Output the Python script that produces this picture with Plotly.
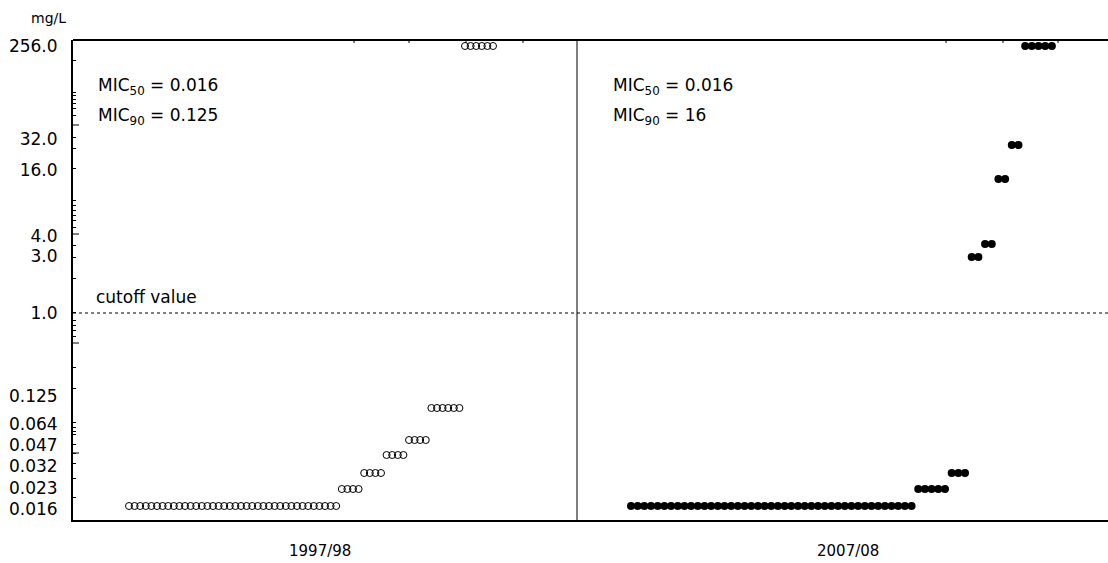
import numpy as np
import plotly.graph_objects as go

# ---------------- data ----------------
periods = ["1997/98", "2007/08"]

mic_levels_9798 = [0.016, 0.023, 0.032, 0.047, 0.064, 0.125, 256]
counts_9798 = [38, 4, 4, 4, 4, 6, 6]

mic_levels_0708 = [0.016, 0.023, 0.032, 3, 4, 16, 32, 256]
counts_0708 = [43, 5, 3, 2, 2, 2, 2, 5]

mic_summary = {
    "1997/98": ("0.016", "0.125"),
    "2007/08": ("0.016", "16"),
}
cutoff_value = 1.0

tick_labels = ["0.016", "0.023", "0.032", "0.047", "0.064", "0.125",
               "1.0", "3.0", "4.0", "16.0", "32.0", "256.0"]

# ---------------- custom dilution scale (axis units = px from bottom) ----------------
scale_vals = [0.016, 0.023, 0.032, 0.047, 0.064, 0.125, 1, 3, 4, 16, 32, 256]
scale_pos = [14, 31, 47, 65, 80, 112, 207, 263, 276, 341, 375, 474]
tick_pos = [11, 32, 54, 75, 96, 124, 207, 264, 284, 350, 381, 474]
minor_pos = [460, 428, 425, 421, 417, 412, 405, 383, 372, 352, 320, 315, 310, 305,
             300, 293, 275, 263, 242, 208, 200, 195, 190, 184, 153, 132, 98, 93,
             89, 86, 76, 67, 57, 42, 23]
long_tick_pos = [395, 286, 177, 67]


def ypos(v):
    return np.interp(np.log2(v), np.log2(scale_vals), scale_pos)


vals_l = np.repeat(mic_levels_9798, counts_9798)
vals_r = np.repeat(mic_levels_0708, counts_0708)

L, T, R, B = 73, 40, 0, 43
W, H = 1108, 563
pw = W - L - R
ph = H - T - B
d = (577 - L) / pw

fig = go.Figure()
fig.add_trace(go.Scatter(
    x=np.arange(len(vals_l)), y=ypos(vals_l), mode="markers",
    marker=dict(symbol="circle-open", size=7, color="black", line=dict(width=1, color="black")),
    xaxis="x", yaxis="y", hoverinfo="skip"))
fig.add_trace(go.Scatter(
    x=np.arange(len(vals_r)), y=ypos(vals_r), mode="markers",
    marker=dict(symbol="circle", size=8, color="black"),
    xaxis="x2", yaxis="y", hoverinfo="skip"))

FAM = "DejaVu Sans, Liberation Sans, Arial, sans-serif"
font = dict(family=FAM, size=17, color="black")

fig.update_layout(
    width=W, height=H,
    margin=dict(l=L, r=R, t=T, b=B),
    plot_bgcolor="white", paper_bgcolor="white",
    showlegend=False, font=font,
    xaxis=dict(domain=[0, d], range=[-10, 80], showline=True, linewidth=2, linecolor="black",
               showticklabels=False, ticks="", showgrid=False, zeroline=False),
    xaxis2=dict(domain=[d, 1], range=[-8.08, 71.4], anchor="y", showline=True, linewidth=2,
                linecolor="black", showticklabels=False, ticks="", showgrid=False, zeroline=False),
    yaxis=dict(range=[0, ph], tickmode="array", tickvals=tick_pos, ticktext=tick_labels,
               ticks="outside", ticklen=10, tickcolor="rgba(0,0,0,0)",
               tickfont=dict(family=FAM, size=17, color="black"),
               showline=True, linewidth=2, linecolor="black", showgrid=False, zeroline=False,
               minor=dict(tickmode="array", tickvals=minor_pos, ticks="inside", ticklen=3,
                          tickcolor="black", tickwidth=1, showgrid=False)),
)

shapes = []
# top border
shapes.append(dict(type="line", xref="paper", yref="paper", x0=0, x1=1, y0=1, y1=1,
                   line=dict(color="black", width=2)))
# panel divider
shapes.append(dict(type="line", xref="paper", yref="paper", x0=d, x1=d, y0=0, y1=1,
                   line=dict(color="black", width=1)))
# cutoff line
cy = float(ypos(cutoff_value))
shapes.append(dict(type="line", xref="paper", yref="y", x0=0, x1=1, y0=cy, y1=cy,
                   line=dict(color="black", width=1, dash="3px,3px")))
# long y ticks
for p in long_tick_pos:
    shapes.append(dict(type="line", xref="paper", yref="y", x0=0, x1=6 / pw, y0=p, y1=p,
                       line=dict(color="black", width=1)))
# small top ticks
for px in [354, 409, 466, 523, 946, 1003, 1058]:
    xp = (px - L) / pw
    shapes.append(dict(type="line", xref="paper", yref="paper", x0=xp, x1=xp, y0=1, y1=1 - 3 / ph,
                       line=dict(color="black", width=1)))
fig.update_layout(shapes=shapes)


def px_x(px):
    return (px - L) / pw


def px_y(py):
    return (H - B - py) / ph


ann = []
ann.append(dict(text="mg/L", x=px_x(29), y=px_y(18), font=dict(family=FAM, size=14, color="black")))
ann.append(dict(text="cutoff value", x=px_x(94), y=px_y(297), font=font))
for per, x0 in zip(periods, [96, 611]):
    m50, m90 = mic_summary[per]
    ann.append(dict(text=f"MIC<sub>50</sub> = {m50}", x=px_x(x0), y=px_y(86), font=font))
    ann.append(dict(text=f"MIC<sub>90</sub> = {m90}", x=px_x(x0), y=px_y(116), font=font))
for a in ann:
    a.update(xref="paper", yref="paper", xanchor="left", yanchor="middle", showarrow=False)
for per, cx in zip(periods, [320, 848]):
    ann.append(dict(text=per, x=px_x(cx), y=px_y(551), xref="paper", yref="paper",
                    xanchor="center", yanchor="middle", showarrow=False,
                    font=dict(family=FAM, size=15, color="black")))
fig.update_layout(annotations=ann)

fig.write_html("out.html", config={"displayModeBar": False},
               post_script="document.body.style.margin='0';document.body.style.padding='0';")
